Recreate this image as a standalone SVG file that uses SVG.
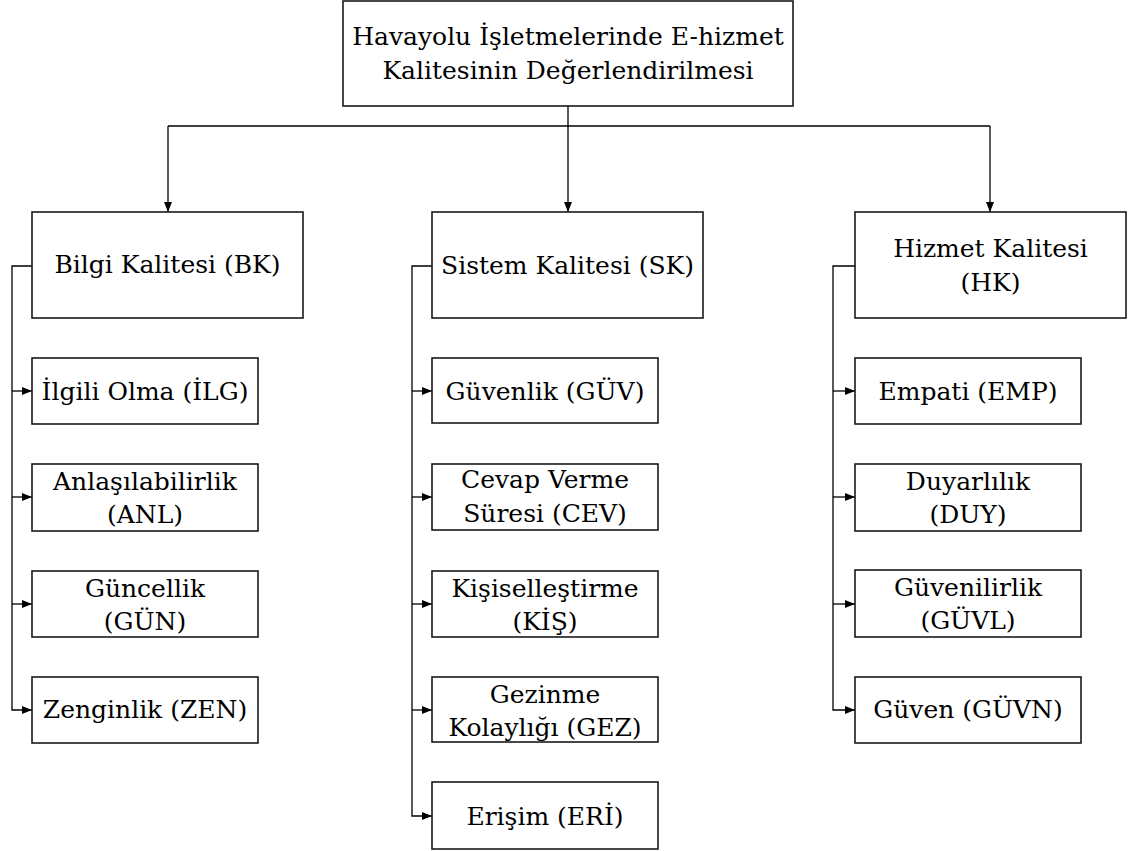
<svg xmlns="http://www.w3.org/2000/svg" width="1128" height="851" viewBox="0 0 1128 851">
<defs>
<marker id="ah" viewBox="0 0 10 8" refX="10" refY="4" markerWidth="10" markerHeight="8" orient="auto" markerUnits="userSpaceOnUse"><path d="M0,0 L10,4 L0,8 z" fill="#000"/></marker>
</defs>
<rect width="1128" height="851" fill="#fff"/>
<g id="connectors" fill="none" stroke="#000" stroke-width="1.3">
<path d="M568,106 V126"/>
<path d="M168,126 H990"/>
<path d="M168,126 V212" marker-end="url(#ah)"/>
<path d="M568,126 V212" marker-end="url(#ah)"/>
<path d="M990,126 V212" marker-end="url(#ah)"/>
<path d="M32,266 H12 V710 H32" marker-end="url(#ah)"/>
<path d="M12,391 H32" marker-end="url(#ah)"/>
<path d="M12,497 H32" marker-end="url(#ah)"/>
<path d="M12,604 H32" marker-end="url(#ah)"/>
<path d="M432,266 H412 V816 H432" marker-end="url(#ah)"/>
<path d="M412,391 H432" marker-end="url(#ah)"/>
<path d="M412,497 H432" marker-end="url(#ah)"/>
<path d="M412,604 H432" marker-end="url(#ah)"/>
<path d="M412,710 H432" marker-end="url(#ah)"/>
<path d="M855,266 H833 V710 H855" marker-end="url(#ah)"/>
<path d="M833,391 H855" marker-end="url(#ah)"/>
<path d="M833,497 H855" marker-end="url(#ah)"/>
<path d="M833,604 H855" marker-end="url(#ah)"/>
</g>
<g id="boxes" fill="#fff" stroke="#1a1a1a" stroke-width="1.6">
<rect id="root-box" x="343" y="1" width="450" height="105"/>
<rect id="bk-box" x="32" y="212" width="271" height="106"/>
<rect id="sk-box" x="432" y="212" width="271" height="106"/>
<rect id="hk-box" x="855" y="212" width="271" height="106"/>
<rect id="ilg-box" x="32" y="358" width="226" height="66"/>
<rect id="anl-box" x="32" y="464" width="226" height="67"/>
<rect id="gun-box" x="32" y="571" width="226" height="66"/>
<rect id="zen-box" x="32" y="677" width="226" height="66"/>
<rect id="guv-box" x="432" y="358" width="226" height="65"/>
<rect id="cev-box" x="432" y="464" width="226" height="66"/>
<rect id="kis-box" x="432" y="571" width="226" height="66"/>
<rect id="gez-box" x="432" y="677" width="226" height="65"/>
<rect id="eri-box" x="432" y="782" width="226" height="67"/>
<rect id="emp-box" x="855" y="358" width="226" height="66"/>
<rect id="duy-box" x="855" y="464" width="226" height="67"/>
<rect id="guvl-box" x="855" y="570" width="226" height="67"/>
<rect id="guvn-box" x="855" y="677" width="226" height="66"/>
</g>
<g id="labels" font-family="'DejaVu Serif', 'Liberation Serif', serif" font-size="25" text-anchor="middle" fill="#000">
<g id="root">
<text x="568" y="45">Havayolu İşletmelerinde E-hizmet</text>
<text x="568" y="79">Kalitesinin Değerlendirilmesi</text>
</g>
<g id="bk"><text x="167.5" y="273">Bilgi Kalitesi (BK)</text></g>
<g id="sk"><text x="567.5" y="274">Sistem Kalitesi (SK)</text></g>
<g id="hk">
<text x="990.5" y="257">Hizmet Kalitesi</text>
<text x="990.5" y="291">(HK)</text>
</g>
<g id="ilg"><text x="145" y="400">İlgili Olma (İLG)</text></g>
<g id="anl">
<text x="145" y="490">Anlaşılabilirlik</text>
<text x="145" y="523">(ANL)</text>
</g>
<g id="gun">
<text x="145" y="597">Güncellik</text>
<text x="145" y="630">(GÜN)</text>
</g>
<g id="zen"><text x="145" y="718">Zenginlik (ZEN)</text></g>
<g id="guv"><text x="545" y="400">Güvenlik (GÜV)</text></g>
<g id="cev">
<text x="545" y="488">Cevap Verme</text>
<text x="545" y="522">Süresi (CEV)</text>
</g>
<g id="kis">
<text x="545" y="597">Kişiselleştirme</text>
<text x="545" y="630">(KİŞ)</text>
</g>
<g id="gez">
<text x="545" y="703">Gezinme</text>
<text x="545" y="736">Kolaylığı (GEZ)</text>
</g>
<g id="eri"><text x="545" y="825">Erişim (ERİ)</text></g>
<g id="emp"><text x="968" y="400">Empati (EMP)</text></g>
<g id="duy">
<text x="968" y="490">Duyarlılık</text>
<text x="968" y="523">(DUY)</text>
</g>
<g id="guvl">
<text x="968" y="596">Güvenilirlik</text>
<text x="968" y="629">(GÜVL)</text>
</g>
<g id="guvn"><text x="968" y="718">Güven (GÜVN)</text></g>
</g>
</svg>
